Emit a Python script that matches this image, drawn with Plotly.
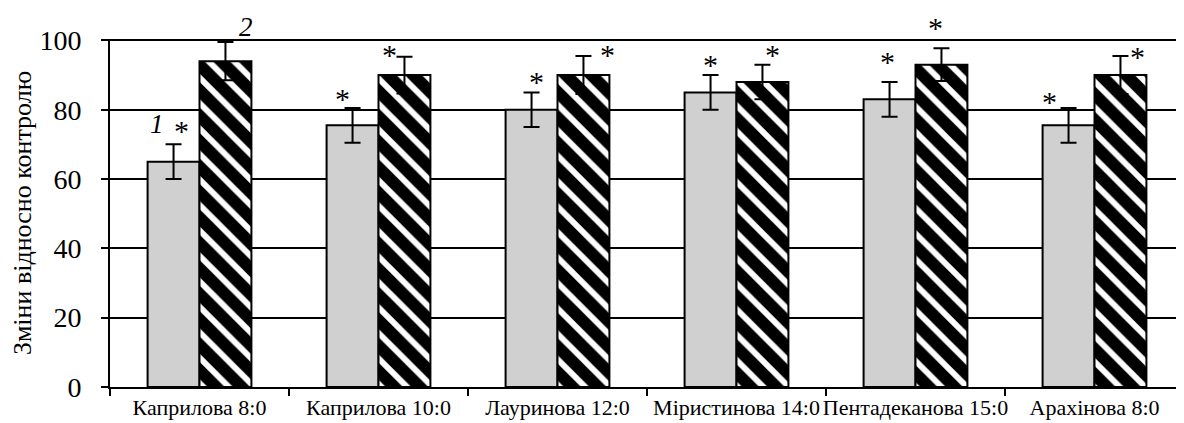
import plotly.graph_objects as go

categories = ["Каприлова 8:0", "Каприлова 10:0", "Лауринова 12:0",
              "Міристинова 14:0", "Пентадеканова 15:0", "Арахінова 8:0"]
series1 = [65, 75.5, 80, 85, 83, 75.5]
err1 = [5, 5, 5, 5, 5, 5]
series2 = [94, 90, 90, 88, 93, 90]
err2 = [5.5, 5.3, 5.5, 5, 4.7, 5.5]
y_ticks = [0, 20, 40, 60, 80, 100]
Y_TOP = 100.4

# significance marks: (category index, offset within category, value level)
stars = [(0, -0.10, 73.9), (1, -0.20, 83.3), (1, 0.06, 96.0), (2, -0.116, 88.2),
         (2, 0.28, 96.0), (3, -0.146, 93.1), (3, 0.199, 96.0), (4, -0.155, 94.0),
         (4, 0.112, 103.7), (5, -0.252, 82.5), (5, 0.239, 95.4)]
series_labels = [("1", 0, -0.235, 75.8), ("2", 0, 0.26, 104.0)]

FONT = "Liberation Serif, Times New Roman, serif"

fig = go.Figure()
fig.add_trace(go.Bar(
    x=categories, y=series1, name="1",
    marker=dict(color="#d0d0d0", line=dict(color="black", width=2)),
    error_y=dict(type="data", array=err1, color="black", thickness=2, width=8),
))
fig.add_trace(go.Bar(
    x=categories, y=series2, name="2",
    marker=dict(color="black", line=dict(color="black", width=2),
                pattern=dict(shape="\\", bgcolor="black", fgcolor="white",
                             size=18, solidity=0.33, fillmode="replace")),
    error_y=dict(type="data", array=err2, color="black", thickness=2, width=8),
))

annotations = []
for ci, off, val in stars:
    annotations.append(dict(x=ci + off, y=val / Y_TOP, xref="x", yref="paper", text="*",
                            showarrow=False, font=dict(family=FONT, size=30, color="black"),
                            xanchor="center", yanchor="middle"))
for txt, ci, off, val in series_labels:
    annotations.append(dict(x=ci + off, y=val / Y_TOP, xref="x", yref="paper",
                            text="<i>" + txt + "</i>",
                            showarrow=False, font=dict(family=FONT, size=27, color="black"),
                            xanchor="center", yanchor="middle"))

# the page places the figure 8px from the top-left corner
fig.update_layout(
    width=1176, height=415,
    margin=dict(l=102, r=0, t=31, b=36),
    paper_bgcolor="white", plot_bgcolor="white",
    showlegend=False,
    barmode="group", bargap=0.42, bargroupgap=0,
    font=dict(family=FONT, color="black"),
    annotations=annotations,
    xaxis=dict(type="category", range=[-0.5, 5.5], tickson="boundaries",
               ticks="outside", ticklen=7, tickwidth=2, tickcolor="black",
               showline=True, linecolor="black", linewidth=2, automargin=False,
               tickangle=0, ticklabelstandoff=0,
               showgrid=False, tickfont=dict(size=22, family=FONT)),
    yaxis=dict(range=[0, Y_TOP], tickvals=y_ticks, ticks="outside", ticklen=7,
               tickwidth=2, tickcolor="black", showline=True, linecolor="black",
               linewidth=2, showgrid=True, gridcolor="black", gridwidth=2,
               zeroline=False, tickfont=dict(size=28, family=FONT), automargin=False,
               ticklabelstandoff=14,
               title=dict(text="Зміни відносно контролю", font=dict(size=26, family=FONT),
                          standoff=8)),
)

fig.write_html("out.html")
